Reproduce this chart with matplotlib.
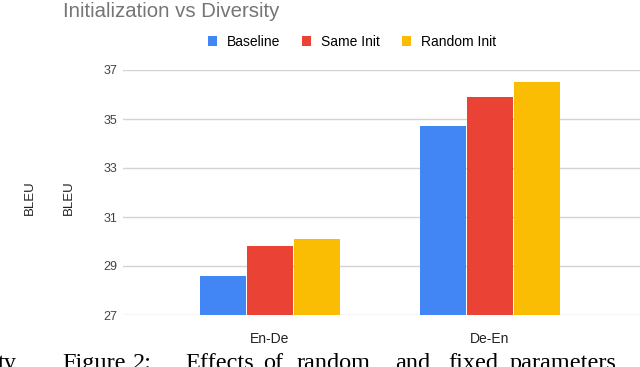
import matplotlib.pyplot as plt
from matplotlib.patches import Patch

# data
categories = ["En-De", "De-En"]
series = ["Baseline", "Same Init", "Random Init"]
baseline = [28.6, 34.7]
same_init = [29.8, 35.9]
random_init = [30.1, 36.5]
yticks = [27, 29, 31, 33, 35, 37]

colors = ["#4285F4", "#EA4335", "#FBBC04"]
W, H = 640, 367

plt.rcParams['font.family'] = ['Liberation Sans', 'DejaVu Sans']

fig = plt.figure(figsize=(6.4, 3.67), dpi=100)
ax = fig.add_axes([123 / W, (H - 315) / H, 517 / W, 245 / H])

x = range(len(categories))
step = 47 / 220
width = 46 / 220
for k, (vals, c) in enumerate(zip([baseline, same_init, random_init], colors)):
    ax.bar([i + (k - 1) * step for i in x], [v - 27 for v in vals], bottom=27,
           width=width, color=c, zorder=3)

ax.set_xlim((123 - 270) / 220, (640 - 270) / 220)
ax.set_ylim(27, 37)
ax.set_yticks(yticks)
ax.set_xticks(list(x))
ax.set_xticklabels(categories)
ax.tick_params(axis='y', length=0, pad=4.3, labelsize=9, labelcolor='#444444')
ax.tick_params(axis='x', length=0, pad=12.5, labelsize=10, labelcolor='#222222')
ax.grid(axis='y', color='#d3d3d3', linewidth=1.0, zorder=0)
for s in ax.spines.values():
    s.set_visible(False)

# title and legend
fig.text(63 / W, 1 - 17 / H, "Initialization vs Diversity", ha='left', va='baseline',
         fontsize=14.7, color='#757575')
handles = [Patch(facecolor=c, edgecolor='none') for c in colors]
fig.legend(handles, series, loc='center', bbox_to_anchor=(352 / W, 1 - 42 / H), ncol=3,
           frameon=False, fontsize=10, handlelength=0.65, handleheight=0.65,
           handletextpad=0.7, columnspacing=1.6)

# axis labels (two copies in the screenshot)
for xp in (30, 69):
    fig.text(xp / W, 1 - 198 / H, "BLEU", rotation=90, ha='center', va='center',
             fontsize=9.5, color='#222222')

# paper caption cut off at the bottom
cap_words = ["ty", "Figure", "2:", "Effects", "of", "random", "and", "fixed", "parameters"]
cap_x = [-2, 62, 133, 185, 263, 297, 395, 448, 510]
for wd, xp in zip(cap_words, cap_x):
    fig.text(xp / W, (H - 369) / H, wd, ha='left', va='baseline', fontsize=17.5,
             family='Liberation Serif', color='black')

fig.savefig("out.png", dpi=100)
